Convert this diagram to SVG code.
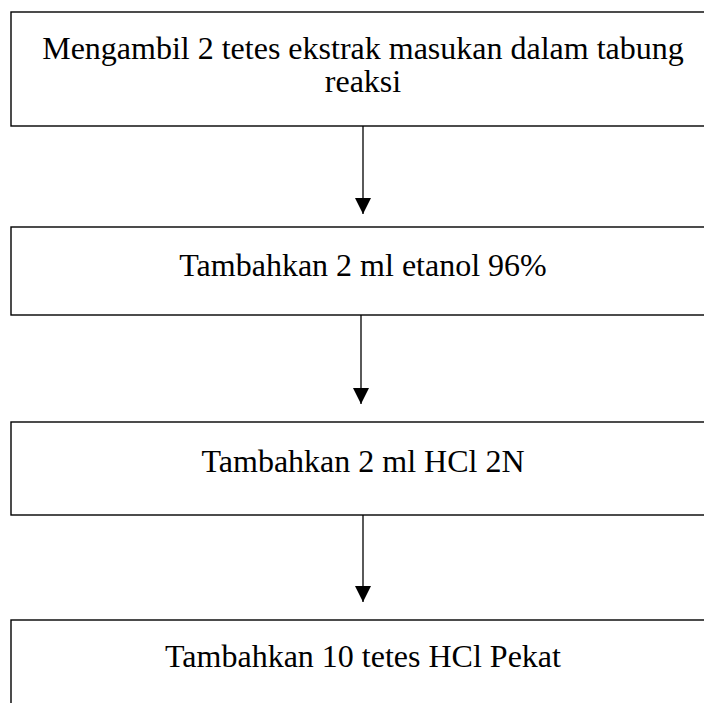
<svg xmlns="http://www.w3.org/2000/svg" width="704" height="703" viewBox="0 0 704 703">
<style>
.box{fill:#fff;stroke:#000;stroke-width:1.4}
.t{font-family:"Liberation Serif","Times New Roman",serif;font-size:32px;fill:#000;text-anchor:middle}
.c{stroke:#000;stroke-width:1.3;fill:none}
</style>
<defs>
<marker id="ah" markerWidth="16" markerHeight="16" refX="16" refY="8" orient="auto" markerUnits="userSpaceOnUse">
<path d="M0,0 L16,8 L0,16 Z" fill="#000"/>
</marker>
</defs>
<rect width="704" height="703" fill="#fff"/>
<g id="node1"><rect class="box" x="11" y="12" width="704" height="114"/>
<text class="t" x="363" y="59">Mengambil 2 tetes ekstrak masukan dalam tabung</text>
<text class="t" x="363" y="92">reaksi</text></g>
<g id="node2"><rect class="box" x="11" y="227" width="704" height="88"/>
<text class="t" x="363" y="276">Tambahkan 2 ml etanol 96%</text></g>
<g id="node3"><rect class="box" x="11" y="422" width="704" height="93"/>
<text class="t" x="363" y="472">Tambahkan 2 ml HCl 2N</text></g>
<g id="node4"><rect class="box" x="11" y="620" width="704" height="100"/>
<text class="t" x="363" y="667">Tambahkan 10 tetes HCl Pekat</text></g>
<g id="connectors">
<line class="c" x1="363" y1="126" x2="363" y2="214" marker-end="url(#ah)"/>
<line class="c" x1="361" y1="315" x2="361" y2="404" marker-end="url(#ah)"/>
<line class="c" x1="363" y1="515" x2="363" y2="602" marker-end="url(#ah)"/>
</g>
</svg>
